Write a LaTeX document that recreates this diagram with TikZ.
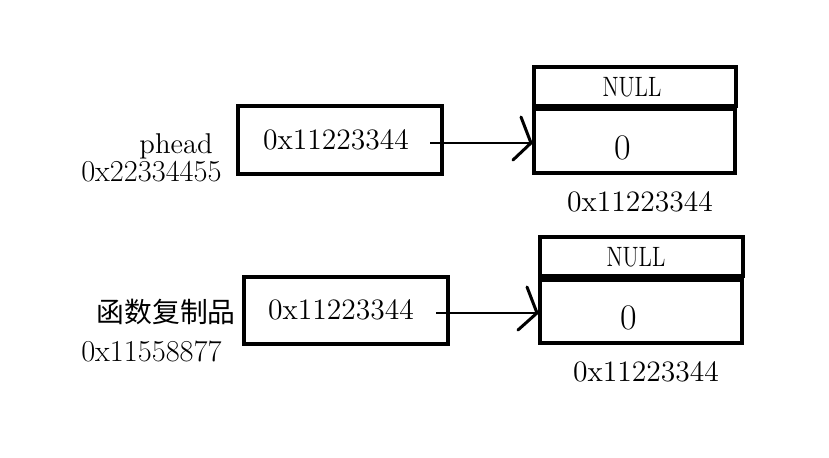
\documentclass[tikz,border=0pt]{standalone}
\usepackage{fontspec}
\usepackage{graphicx}
\newfontfamily\cjk{Noto Sans CJK SC}
\begin{document}
\begin{tikzpicture}[x=0.5pt,y=-0.5pt,
  cell/.style={draw=black,line width=1.6pt,minimum width=0pt,inner sep=0pt},
  addr/.style={font=\fontsize{14.8}{17}\selectfont,inner sep=0pt},
  lab/.style={font=\fontsize{14.3}{17}\selectfont,inner sep=0pt,anchor=east},
  laddr/.style={font=\fontsize{15.2}{17}\selectfont,inner sep=0pt,anchor=east},
  nulltxt/.style={font=\fontsize{14}{16}\selectfont,inner sep=0pt},
  zero/.style={font=\fontsize{18}{20}\selectfont,inner sep=0pt},
  link/.style={line width=1.4pt},
  tip/.style={line width=1.5pt,line cap=round}]
\path[use as bounding box,fill=white] (0,0) rectangle (829,458);

% ---------- top row ----------
\draw[cell] (238,106) rectangle (442,174);
\node[addr] (pv1) at (336,140) {0x11223344};
\node[lab] (ph) at (213,146) {phead};
\node[laddr] (pa) at (222,172) {0x22334455};
\draw[cell] (534,67) rectangle (736,106);
\node[nulltxt] (n1) at (632,87) {\scalebox{0.78}[1]{NULL}};
\draw[cell] (534,109) rectangle (735,173);
\node[zero] (z1) at (623,148) {0};
\node[addr] (a1) at (640,202) {0x11223344};
\coordinate (s1) at (430,143);
\coordinate (e1) at (531,143);
\coordinate (u1) at (521,117);
\coordinate (l1) at (513,160);
\draw[link] (s1) -- (e1);
\draw[tip] (u1) -- (e1) -- (l1);

% ---------- bottom row ----------
\draw[cell] (244,277) rectangle (448,344);
\node[addr] (pv2) at (341,310) {0x11223344};
\node[lab,font=\fontsize{13.9}{16}\selectfont\cjk] (fc) at (236,312) {函数复制品};
\node[laddr] (fa) at (222,351) {0x11558877};
\draw[cell] (540,237) rectangle (743,276);
\node[nulltxt] (n2) at (636,257) {\scalebox{0.78}[1]{NULL}};
\draw[cell] (540,280) rectangle (742,343);
\node[zero] (z2) at (629,318) {0};
\node[addr] (a2) at (646,372) {0x11223344};
\coordinate (s2) at (436,313);
\coordinate (e2) at (537,313);
\coordinate (u2) at (527,287);
\coordinate (l2) at (518,330);
\draw[link] (s2) -- (e2);
\draw[tip] (u2) -- (e2) -- (l2);
\end{tikzpicture}
\end{document}
